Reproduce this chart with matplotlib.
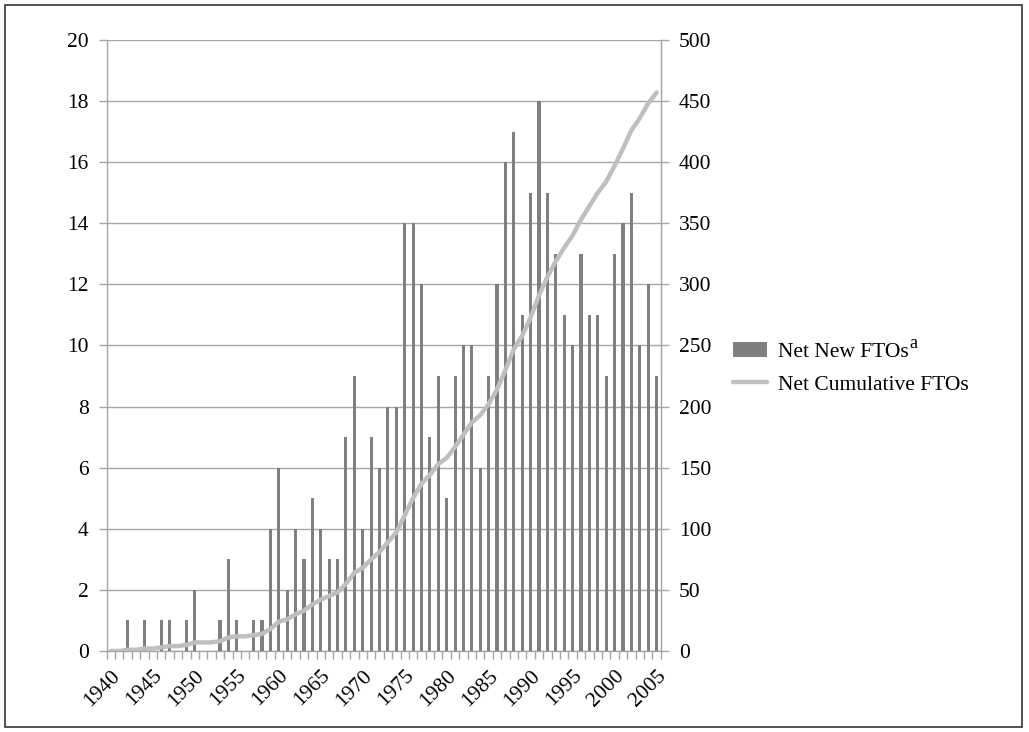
import matplotlib.pyplot as plt
import numpy as np
from matplotlib.patches import Rectangle

plt.rcParams['font.family'] = ['Liberation Serif', 'DejaVu Serif']

# years 1940 .. 2005
years = list(range(1940, 2006))

# net new FTOs per year
net_new = [0, 0, 1, 0, 1, 0, 1, 1, 0, 1,
           2, 0, 0, 1, 3, 1, 0, 1, 1, 4,
           6, 2, 4, 3, 5, 4, 3, 3, 7, 9,
           4, 7, 6, 8, 8, 14, 14, 12, 7, 9,
           5, 9, 10, 10, 6, 9, 12, 16, 17, 11,
           15, 18, 15, 13, 11, 10, 13, 11, 11, 9,
           13, 14, 15, 10, 12, 9]

# net cumulative FTOs (the grey line)
net_cum = [0, 0, 1, 1, 2, 2, 3, 4, 4, 5,
           7, 7, 7, 8, 11, 12, 12, 13, 14, 18,
           24, 26, 30, 33, 38, 42, 45, 48, 55, 64,
           68, 75, 81, 89, 97, 111, 125, 137, 144, 153,
           158, 167, 177, 187, 193, 202, 214, 230, 247, 258,
           273, 291, 306, 319, 330, 340, 353, 364, 375, 384,
           397, 411, 426, 436, 448, 457]

left_ticks = list(range(0, 21, 2))
right_ticks = list(range(0, 501, 50))
year_labels = [str(y) for y in years if y % 5 == 0]

axis_grey = '#a6a6a6'
fs = 15.5

fig = plt.figure(figsize=(10.29, 7.32), dpi=100)
fig.patches.append(Rectangle((0.005, 0.007), 0.988, 0.986, transform=fig.transFigure,
                             fill=False, edgecolor='#333333', linewidth=1.2))

ax = fig.add_axes([0.1037, 0.1107, 0.5384, 0.8347])
x = np.arange(len(years))

ax.bar(x, net_new, width=0.37, color='#7f7f7f', zorder=3, label='Net New FTOs')
ax.set_xlim(-0.5, len(years) - 0.5)
ax.set_ylim(0, 20)
ax.set_yticks(left_ticks)
ax.yaxis.grid(True, color=axis_grey, linewidth=1.0, zorder=0)
ax.set_axisbelow(True)

label_pos = [i for i, y in enumerate(years) if y % 5 == 0]
ax.set_xticks(label_pos)
ax.set_xticklabels(year_labels, rotation=45, ha='right', rotation_mode='anchor')
ax.set_xticks(np.arange(-0.5, len(years)), minor=True)
ax.tick_params(axis='x', which='major', length=0, pad=11, labelsize=fs)
ax.tick_params(axis='x', which='minor', length=6, color=axis_grey, width=1.0)
ax.tick_params(axis='y', length=6, color=axis_grey, width=1.0, pad=7, labelsize=fs)

ax.spines['top'].set_visible(False)
for s in ['left', 'right', 'bottom']:
    ax.spines[s].set_color(axis_grey)
    ax.spines[s].set_linewidth(1.0)

ax2 = ax.twinx()
ax2.plot(x, net_cum, color='#bfbfbf', linewidth=3.2, solid_capstyle='round',
         solid_joinstyle='round', label='Net Cumulative FTOs', zorder=4)
ax2.set_ylim(0, 500)
ax2.set_yticks(right_ticks)
ax2.tick_params(axis='y', length=6, color=axis_grey, width=1.0, pad=7, labelsize=fs)
for s in ['top', 'left', 'bottom']:
    ax2.spines[s].set_visible(False)
ax2.spines['right'].set_color(axis_grey)

h1, l1 = ax.get_legend_handles_labels()
h2, l2 = ax2.get_legend_handles_labels()
leg = fig.legend(h1 + h2, l1 + l2, loc='center left', bbox_to_anchor=(0.712, 0.497),
                 bbox_transform=fig.transFigure, frameon=False, fontsize=fs,
                 handlelength=1.6, handletextpad=0.5, labelspacing=0.6,
                 borderpad=0, borderaxespad=0)

# superscript "a" after the first legend label (placed in pixels)
fig.canvas.draw()
bb = leg.get_texts()[0].get_window_extent()
em = fs * fig.dpi / 72
base_y = bb.y0 + 0.22 * em + 9
fig.text(bb.x1 + 1, base_y, 'a', fontsize=fs * 0.85, va='baseline', ha='left',
         transform=None)

plt.savefig('out.png', dpi=100)
